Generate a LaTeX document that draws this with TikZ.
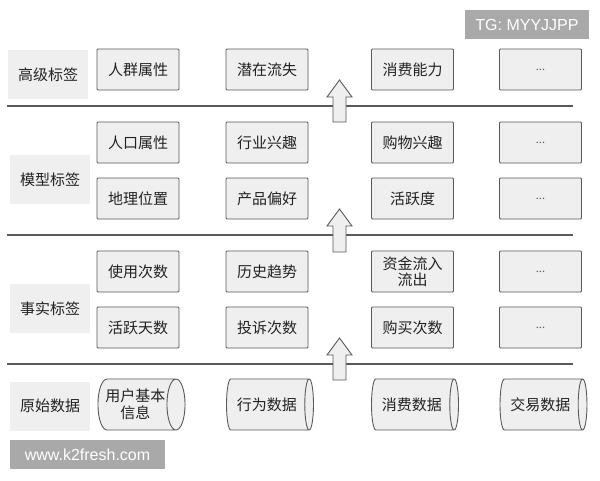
\documentclass[tikz,border=0pt]{standalone}
\usepackage{fontspec}
\newfontfamily\cjk{Noto Sans CJK SC}
\newfontfamily\wm{Liberation Sans}
\usetikzlibrary{shapes.geometric}
\definecolor{boxfill}{HTML}{EFEFEF}
\definecolor{boxline}{HTML}{5A5A5A}
\definecolor{txt}{HTML}{222222}
\definecolor{wmgray}{HTML}{A9A9A9}
\begin{document}
\begin{tikzpicture}[x=1pt,y=-1pt,
  tagbox/.style={draw=boxline,fill=boxfill,line width=0.9pt,rounded corners=1pt,
    minimum width=82pt,minimum height=41pt,inner sep=2pt,align=center,
    text=txt,font=\cjk\fontsize{15}{17}\selectfont},
  dotsbox/.style={tagbox,font=\cjk\fontsize{11}{13}\selectfont,text=boxline},
  rowlabel/.style={fill=boxfill,minimum width=80pt,minimum height=49pt,inner sep=0pt,
    text=txt,font=\cjk\fontsize{15}{17}\selectfont},
  datacyl/.style={cylinder,draw=boxline,fill=boxfill,line width=0.9pt,aspect=0.55,
    minimum width=51pt,minimum height=87pt,inner sep=1pt,align=center,anchor=shape center,
    text=txt,font=\cjk\fontsize{15}{17}\selectfont},
  layerline/.style={draw=boxline,line width=1.2pt},
  uparrow/.style={draw=boxline,fill=boxfill,line width=0.9pt,line join=miter},
  watermark/.style={fill=wmgray,text=white,inner sep=0pt,font=\wm\fontsize{16}{18}\selectfont}
]
\useasboundingbox (0,0) rectangle (600,480);
\fill[white] (0,0) rectangle (600,480);

% layer separator lines
\coordinate (l1a) at (7,106);  \coordinate (l1b) at (573,106);
\coordinate (l2a) at (7,235);  \coordinate (l2b) at (573,235);
\coordinate (l3a) at (7,364);  \coordinate (l3b) at (573,364);
\draw[layerline] (l1a) -- (l1b);
\draw[layerline] (l2a) -- (l2b);
\draw[layerline] (l3a) -- (l3b);

% row labels
\node[rowlabel] (lab1) at (48,74.5) {高级标签};
\node[rowlabel] (lab2) at (50,179.5) {模型标签};
\node[rowlabel] (lab3) at (50,308.5) {事实标签};
\node[rowlabel] (lab4) at (50,406) {原始数据};

% high-level tags
\node[tagbox] (h1) at (138,69.5) {人群属性};
\node[tagbox] (h2) at (267,69.5) {潜在流失};
\node[tagbox] (h3) at (412.5,69.5) {消费能力};
\node[dotsbox] (h4) at (540.5,69.5) {...};

% model tags
\node[tagbox] (m1) at (138,142.5) {人口属性};
\node[tagbox] (m2) at (267,142.5) {行业兴趣};
\node[tagbox] (m3) at (412.5,142.5) {购物兴趣};
\node[dotsbox] (m4) at (540.5,142.5) {...};
\node[tagbox] (m5) at (138,198.5) {地理位置};
\node[tagbox] (m6) at (267,198.5) {产品偏好};
\node[tagbox] (m7) at (412.5,198.5) {活跃度};
\node[dotsbox] (m8) at (540.5,198.5) {...};

% fact tags
\node[tagbox] (f1) at (138,271.5) {使用次数};
\node[tagbox] (f2) at (267,271.5) {历史趋势};
\node[tagbox,font=\cjk\fontsize{15}{16}\selectfont] (f3) at (412.5,271.5) {资金流入\\流出};
\node[dotsbox] (f4) at (540.5,271.5) {...};
\node[tagbox] (f5) at (138,327.5) {活跃天数};
\node[tagbox] (f6) at (267,327.5) {投诉次数};
\node[tagbox] (f7) at (412.5,327.5) {购买次数};
\node[dotsbox] (f8) at (540.5,327.5) {...};

% raw data
\node[datacyl] (d1) at (141.5,404.5) {用户基本\\信息};
\node[datacyl] (d2) at (270,404.5) {行为数据};
\node[datacyl] (d3) at (415,404.5) {消费数据};
\node[datacyl] (d4) at (543.5,404.5) {交易数据};

% block arrows between layers
\foreach \t/\b in {80/122, 209/252, 338/380}{
  \draw[uparrow] (339.5,\t) -- (352,\t+17) -- (346,\t+17) -- (346,\b)
     -- (333,\b) -- (333,\t+17) -- (327,\t+17) -- cycle;
}

% watermarks
\node[watermark,minimum width=124pt,minimum height=29pt] (wm1) at (527,24.5) {TG: MYYJJPP};
\node[watermark,minimum width=155pt,minimum height=29pt] (wm2) at (87.5,454.5) {www.k2fresh.com};
\end{tikzpicture}
\end{document}
